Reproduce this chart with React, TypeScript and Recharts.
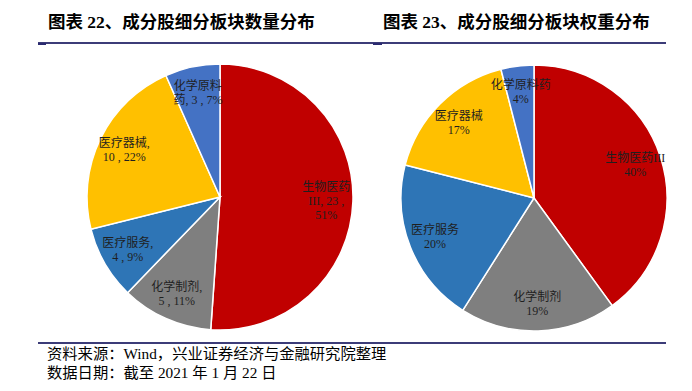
import React from "react";
import { PieChart, Pie, Cell } from "recharts";

const categories = ["生物医药III", "化学制剂", "医疗服务", "医疗器械", "化学原料药"];
const countValues = [23, 5, 4, 10, 3];
const weightValues = [40, 19, 20, 17, 4];
const colors = ["#C00000", "#7F7F7F", "#2E75B6", "#FFC000", "#4472C4"];

const countLabelLines = [
  ["生物医药", "III, 23 ,", "51%"],
  ["化学制剂,", "5 , 11%"],
  ["医疗服务,", "4 , 9%"],
  ["医疗器械,", "10 , 22%"],
  ["化学原料", "药, 3 , 7%"],
];
const weightLabelLines = [
  ["生物医药III", "40%"],
  ["化学制剂", "19%"],
  ["医疗服务", "20%"],
  ["医疗器械", "17%"],
  ["化学原料药", "4%"],
];

const leftTitle = "图表 22、成分股细分板块数量分布";
const rightTitle = "图表 23、成分股细分板块权重分布";
const footer1 = "资料来源：Wind，兴业证券经济与金融研究院整理";
const footer2 = "数据日期：截至 2021 年 1 月 22 日";

const countData = categories.map((name, i) => ({ name, value: countValues[i] }));
const weightData = categories.map((name, i) => ({ name, value: weightValues[i] }));

const RAD = Math.PI / 180;
const FONT = "'Liberation Serif', 'Noto Sans CJK SC', serif";

const makeLabel = (lines: string[][]) => (props: any) => {
  const { cx, cy, midAngle, outerRadius, index } = props;
  const r = outerRadius * 0.8;
  const x = cx + r * Math.cos(-midAngle * RAD);
  const y = cy + r * Math.sin(-midAngle * RAD);
  const ls = lines[index];
  const lh = 14;
  const start = -((ls.length - 1) / 2) * lh + 4;
  return (
    <text
      x={x}
      y={y}
      textAnchor="middle"
      fill="#1F1F1F"
      fontSize={12}
      fontFamily={FONT}
    >
      {ls.map((t, i) => (
        <tspan key={i} x={x} dy={i === 0 ? start : lh}>
          {t}
        </tspan>
      ))}
    </text>
  );
};

const titleStyle: React.CSSProperties = {
  position: "absolute",
  top: 11,
  fontFamily: FONT,
  fontWeight: "bold",
  fontSize: 17.5,
  color: "#000",
  whiteSpace: "nowrap",
  lineHeight: "22px",
};

const footStyle: React.CSSProperties = {
  position: "absolute",
  left: 47,
  fontFamily: FONT,
  fontSize: 15.3,
  color: "#000",
  whiteSpace: "nowrap",
  lineHeight: "18px",
};

export default function App() {
  return (
    <div
      style={{
        position: "absolute",
        left: 0,
        top: 0,
        width: 692,
        height: 391,
        background: "#fff",
        overflow: "hidden",
      }}
    >
      <div style={{ ...titleStyle, left: 48 }}>{leftTitle}</div>
      <div style={{ ...titleStyle, left: 383 }}>{rightTitle}</div>
      <div
        style={{
          position: "absolute",
          left: 38,
          top: 42,
          width: 628,
          height: 2,
          background: "#3C3C78",
        }}
      />
      <div
        style={{
          position: "absolute",
          left: 38,
          top: 43,
          width: 8,
          height: 2,
          background: "#2A2A70",
        }}
      />
      <div
        style={{
          position: "absolute",
          left: 373,
          top: 43,
          width: 9,
          height: 2,
          background: "#2A2A70",
        }}
      />
      <div style={{ position: "absolute", left: 0, top: 0 }}>
        <PieChart width={692} height={340}>
          <Pie
            data={countData}
            dataKey="value"
            nameKey="name"
            cx={215}
            cy={192}
            outerRadius={133}
            startAngle={90}
            endAngle={-270}
            stroke="#fff"
            strokeWidth={1.5}
            isAnimationActive={false}
            labelLine={false}
            label={makeLabel(countLabelLines)}
          >
            {countData.map((d, i) => (
              <Cell key={d.name} fill={colors[i]} />
            ))}
          </Pie>
          <Pie
            data={weightData}
            dataKey="value"
            nameKey="name"
            cx={529}
            cy={193}
            outerRadius={133}
            startAngle={90}
            endAngle={-270}
            stroke="#fff"
            strokeWidth={1.5}
            isAnimationActive={false}
            labelLine={false}
            label={makeLabel(weightLabelLines)}
          >
            {weightData.map((d, i) => (
              <Cell key={d.name} fill={colors[i]} />
            ))}
          </Pie>
        </PieChart>
      </div>
      <div
        style={{
          position: "absolute",
          left: 38,
          top: 342,
          width: 628,
          height: 2,
          background: "#3C3C78",
        }}
      />
      <div style={{ ...footStyle, top: 345 }}>{footer1}</div>
      <div style={{ ...footStyle, top: 364 }}>{footer2}</div>
    </div>
  );
}
